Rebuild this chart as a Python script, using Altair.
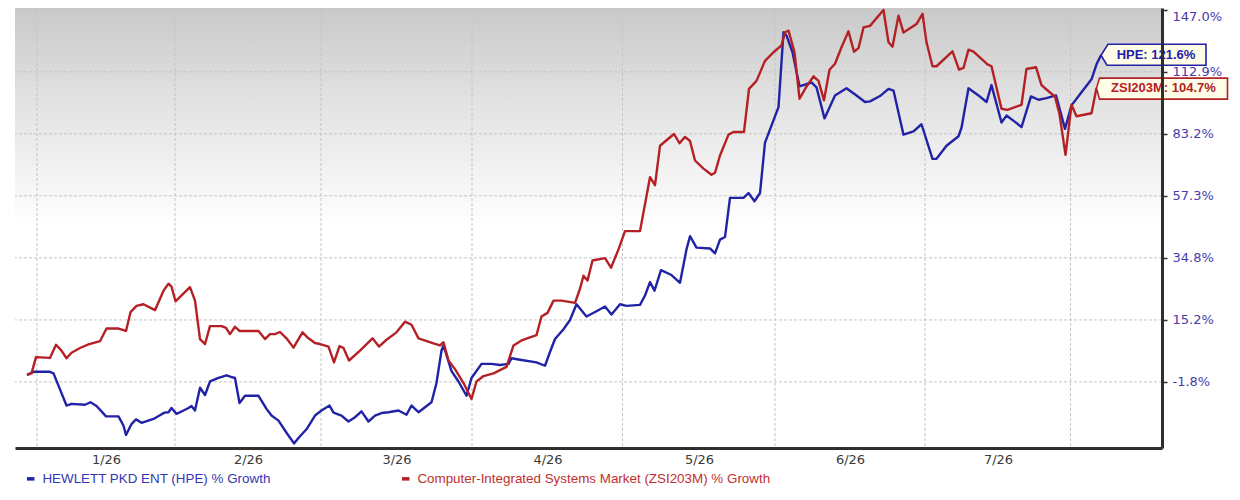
import altair as alt
import pandas as pd

# ---------------- data ----------------
# x: chart day index (0 = first session shown), y: % growth since start
hpe_day = [0.0, 1.3, 4.6, 5.3, 6.6, 7.9, 8.9, 11.6, 12.7, 13.9, 14.9, 15.8, 18.3, 19.3, 19.8,
           20.9, 21.8, 22.9, 25.3, 26.5, 27.5, 28.3, 28.9, 29.9, 31.3, 32.3, 32.9, 33.6, 34.6,
           35.6, 36.6, 38.3, 39.9, 40.8, 41.6, 42.5, 43.6, 46.3, 47.9, 48.9, 50.3, 51.9, 53.4,
           54.6, 55.9, 57.6, 58.9, 60.5, 61.3, 62.9, 64.3, 65.6, 66.9, 68.3, 69.6, 70.9, 72.3,
           74.3, 75.9, 76.9, 78.3, 79.6, 80.9, 81.9, 82.9, 83.3, 84.9, 86.3, 87.9, 88.9, 90.9,
           92.9, 94.6, 96.3, 96.9, 98.6, 101.9, 103.6, 104.6, 105.6, 107.3, 108.6, 109.9, 111.9,
           113.9, 115.6, 116.9, 118.6, 119.9, 122.6, 123.6, 124.6, 125.5, 126.8, 128.9, 130.6,
           131.9, 132.6, 133.9, 136.6, 137.6, 138.6, 139.6, 140.6, 143.3, 144.3, 145.5, 146.6,
           147.6, 150.3, 151.3, 151.9, 153.1, 154.5, 156.9, 157.9, 159.5, 161.6, 163.9, 165.9,
           167.6, 168.6, 170.6, 172.3, 173.3, 175.3, 177.3, 178.9, 181.1, 181.9, 183.9, 186.3,
           186.9, 188.3, 190.3, 191.9, 192.9, 194.9, 195.9, 197.6, 198.9, 200.8, 202.3, 203.9,
           205.8, 207.6, 208.9, 210.9, 212.9, 213.9, 214.8]
hpe_growth = [0.0, 0.8, 0.8, 0.4, -3.7, -7.7, -7.3, -7.5, -6.9, -7.8, -9.1, -10.3, -10.3, -12.5,
              -14.6, -12.1, -11.0, -11.8, -10.9, -10.1, -9.4, -9.3, -8.3, -9.7, -8.9, -8.3, -7.8,
              -8.9, -3.3, -5.1, -1.7, -0.8, -0.1, -0.5, -0.8, -7.1, -5.3, -5.3, -8.5, -10.1,
              -11.3, -14.1, -16.5, -14.9, -13.3, -10.1, -8.9, -7.7, -9.4, -10.1, -11.5, -10.5,
              -9.1, -11.5, -10.1, -9.5, -9.3, -8.9, -9.9, -7.7, -9.3, -8.1, -6.9, -2.1, 6.5, 7.9,
              1.0, -1.7, -5.3, -0.8, 2.9, 2.9, 2.6, 2.9, 4.4, 4.0, 3.3, 2.4, 6.1, 9.7, 12.5, 15.2,
              19.9, 16.2, 17.8, 19.2, 16.8, 19.9, 19.4, 19.7, 22.6, 26.8, 24.1, 30.7, 29.1, 26.6,
              37.7, 42.3, 38.3, 38.0, 36.3, 41.1, 42.0, 56.5, 56.5, 58.4, 55.2, 58.4, 79.3, 95.5,
              134.2, 132.3, 123.2, 105.6, 107.5, 105.1, 90.2, 101.1, 104.6, 101.1, 97.9, 98.2,
              100.8, 104.3, 103.5, 82.8, 84.3, 87.5, 72.3, 72.3, 77.9, 82.1, 85.9, 104.6, 101.1,
              97.9, 106.2, 88.3, 91.5, 88.6, 86.2, 100.6, 99.0, 99.8, 101.1, 85.4, 96.3, 102.7,
              109.1, 116.8, 121.6]

zsi_day = [0.0, 0.9, 1.8, 4.6, 5.8, 6.9, 7.9, 8.9, 10.6, 12.3, 14.6, 15.9, 18.3, 19.8, 20.7,
           21.9, 23.3, 25.6, 27.3, 28.3, 28.9, 29.7, 32.6, 33.6, 34.6, 35.6, 36.6, 38.9, 39.8,
           40.6, 41.6, 42.5, 46.3, 47.6, 48.6, 49.6, 50.6, 51.9, 53.3, 55.1, 56.3, 57.6, 58.6,
           60.3, 61.4, 62.5, 63.3, 64.4, 66.6, 69.1, 70.4, 71.9, 73.9, 75.6, 76.9, 78.3, 81.3,
           82.6, 83.3, 84.3, 85.6, 87.3, 88.9, 89.9, 91.3, 93.3, 95.9, 97.3, 98.9, 100.6, 101.9,
           102.9, 104.1, 105.3, 106.9, 109.6, 110.6, 111.3, 112.1, 113.1, 115.6, 116.8, 118.3,
           119.6, 122.6, 124.6, 125.6, 126.6, 129.4, 130.5, 131.6, 132.6, 133.6, 135.3, 136.9,
           137.6, 138.6, 140.3, 141.3, 143.4, 144.4, 145.9, 147.6, 149.3, 150.9, 151.6, 152.3,
           153.5, 154.5, 155.8, 157.3, 158.3, 159.4, 160.5, 161.6, 162.9, 164.3, 165.4, 166.3,
           167.3, 168.6, 171.3, 172.3, 173.1, 174.3, 175.3, 177.9, 179.1, 179.9, 181.1, 181.9,
           185.1, 186.4, 187.3, 188.3, 189.3, 192.1, 192.9, 194.9, 196.1, 198.9, 199.9, 201.8,
           202.9, 203.9, 205.6, 206.5, 207.7, 208.9, 209.9, 212.9, 213.9]
zsi_growth = [0.0, 0.4, 4.7, 4.5, 8.1, 6.5, 4.4, 5.9, 7.2, 8.2, 9.1, 12.7, 12.7, 12.0, 17.5, 19.4,
              19.9, 18.1, 24.1, 26.3, 25.4, 20.8, 25.2, 21.0, 9.7, 8.3, 13.4, 13.4, 12.9, 11.1,
              13.2, 12.0, 12.0, 9.7, 11.1, 11.1, 11.7, 9.9, 7.3, 11.6, 9.9, 8.6, 8.3, 7.6, 3.3,
              7.7, 7.2, 3.8, 6.5, 9.9, 7.6, 9.5, 11.6, 14.7, 13.8, 9.9, 8.5, 7.9, 8.8, 3.8, 1.5,
              -2.1, -6.1, -1.7, -0.3, 0.4, 2.1, 7.9, 9.3, 10.2, 10.8, 16.2, 17.3, 21.0, 21.0,
              20.3, 24.7, 28.9, 27.3, 33.9, 34.7, 31.5, 37.7, 44.1, 44.1, 64.7, 61.5, 77.9, 83.1,
              79.0, 81.8, 80.0, 71.6, 68.2, 65.7, 66.5, 73.7, 82.8, 84.0, 84.0, 104.3, 108.3,
              118.6, 123.2, 126.9, 134.2, 135.1, 123.2, 99.5, 105.1, 110.6, 108.3, 98.7, 114.0,
              117.1, 125.9, 134.7, 123.5, 125.4, 136.9, 137.8, 147.0, 128.6, 126.2, 143.7, 134.0,
              138.8, 144.8, 128.6, 115.8, 115.8, 123.7, 114.0, 114.9, 124.6, 123.5, 116.8, 115.8,
              94.7, 94.2, 96.6, 114.4, 115.3, 106.2, 104.0, 100.5, 92.2, 74.0, 96.6, 91.2, 92.6,
              104.7]

hpe_name = "HEWLETT PKD ENT (HPE) % Growth"
zsi_name = "Computer-Integrated Systems Market (ZSI203M) % Growth"
hpe_tag = "HPE"
zsi_tag = "ZSI203M"

# y axis tick labels (% growth) - price-based log axis
y_ticks = [147.0, 112.9, 83.2, 57.3, 34.8, 15.2, -1.8]
LOG_BASE = 1.155  # offset of the log (price) axis

# month boundaries and month labels (in chart-day units)
month_starts = [2.0, 29.6, 58.8, 89.0, 119.1, 149.6, 179.6, 208.7]
month_mids = [15.8, 44.2, 73.9, 104.1, 134.4, 164.6, 194.2]
month_labels = ["1/26", "2/26", "3/26", "4/26", "5/26", "6/26", "7/26"]

# ---------------- styling ----------------
BLUE = "#2222a6"
RED = "#b52024"
GRID = "#c4c4c4"
FONT = "DejaVu Sans"
SANS = "Liberation Sans"

W, H = 1147, 440
x_dom = [-2.4, 227]
y_dom = [0.9798, 2.6369]

df = pd.concat([
    pd.DataFrame({"day": hpe_day, "growth": hpe_growth, "series": hpe_name}),
    pd.DataFrame({"day": zsi_day, "growth": zsi_growth, "series": zsi_name}),
])

xs = alt.Scale(domain=x_dom, nice=False, zero=False)
ys = alt.Scale(type="log", domain=y_dom, nice=False, zero=False)

tick_vals = [round(t / 100 + LOG_BASE, 6) for t in y_ticks]
minus = "\u2212"
y_label_expr = f"replace(format((datum.value - {LOG_BASE}) * 100, '.1f'), '{minus}', '-') + '%'"
x_label_expr = ("[" + ",".join(f"'{l}'" for l in month_labels) + "][indexof(["
                + ",".join(str(v) for v in month_mids) + "], datum.value)]")

x_axis = alt.Axis(values=month_mids, labelExpr=x_label_expr, grid=False, ticks=False,
                  domainColor="#2e2e2e", domainWidth=3, labelColor="#3a3a3a",
                  labelFont=FONT, labelFontSize=13, labelPadding=5, title=None, zindex=1)
y_axis = alt.Axis(orient="right", values=tick_vals, labelExpr=y_label_expr, grid=False,
                  domainColor="#2e2e2e", domainWidth=3, tickColor="#2e2e2e", tickSize=5,
                  tickWidth=1.5, labelColor="#4a3aac", labelFont=FONT, labelFontSize=13,
                  labelPadding=5, labelFlush=4, title=None, zindex=1)

gradient = alt.LinearGradient(
    gradient="linear", x1=0, x2=0, y1=0, y2=1,
    stops=[alt.GradientStop(color="#c9c9c9", offset=0),
           alt.GradientStop(color="#e3e3e3", offset=0.22),
           alt.GradientStop(color="#ffffff", offset=0.5),
           alt.GradientStop(color="#ffffff", offset=1)])

background = alt.Chart(pd.DataFrame({"a": [0]})).mark_rect(fill=gradient, stroke=None).encode(
    opacity=alt.value(1))

hgrid = alt.Chart(pd.DataFrame({"v": tick_vals})).mark_rule(
    color=GRID, strokeDash=[3, 2], strokeWidth=1).encode(
    y=alt.Y("v:Q", scale=ys, axis=y_axis))

vgrid = alt.Chart(pd.DataFrame({"day": month_starts})).mark_rule(
    color=GRID, strokeDash=[3, 2], strokeWidth=1).encode(
    x=alt.X("day:Q", scale=xs, axis=x_axis))

lines = alt.Chart(df).transform_calculate(
    v=f"datum.growth / 100 + {LOG_BASE}"
).mark_line(strokeWidth=2.4, strokeJoin="round").encode(
    x=alt.X("day:Q", scale=xs, axis=x_axis),
    y=alt.Y("v:Q", scale=ys, axis=y_axis),
    color=alt.Color("series:N",
                    scale=alt.Scale(domain=[hpe_name, zsi_name], range=[BLUE, RED]),
                    legend=alt.Legend(
                        title=None, orient="none", direction="horizontal",
                        legendX=9, legendY=464, symbolType="stroke",
                        symbolSize=56, symbolStrokeWidth=3.5, labelFont=SANS,
                        labelFontSize=13.4, labelOffset=5, columnPadding=123,
                        labelLimit=600, padding=0,
                        labelColor=alt.ExprRef(
                            expr=f"datum.label == '{hpe_name}' ? '#3636b4' : '#c0302e'"))),
    order="day:Q",
)

# end-of-line value tags
tags = pd.DataFrame({
    "day": [hpe_day[-1], zsi_day[-1]],
    "growth": [hpe_growth[-1], zsi_growth[-1]],
    "text": [f"{hpe_tag}: {hpe_growth[-1]:.1f}%", f"{zsi_tag}: {zsi_growth[-1]:.1f}%"],
    "series": [hpe_name, zsi_name],
})

hpe_box = "M0,0 L7,-11 L105,-11 L105,10 L6,10 Z"
zsi_box = "M0,0 L3,-10 L131,-10 L131,11 L3,11 Z"

def tag_layer(idx, path, color, dx):
    base = alt.Chart(tags.iloc[[idx]]).transform_calculate(
        v=f"datum.growth / 100 + {LOG_BASE}")
    box = base.mark_point(shape=path, size=4, filled=True, fill="#fffde8", stroke=color,
                          strokeWidth=1.6, opacity=1).encode(
        x=alt.X("day:Q", scale=xs), y=alt.Y("v:Q", scale=ys))
    txt = base.mark_text(font=SANS, fontSize=13, fontWeight="bold", color=color,
                         align="center", baseline="middle", dx=dx).encode(
        x=alt.X("day:Q", scale=xs), y=alt.Y("v:Q", scale=ys), text="text:N")
    return box + txt

chart = alt.layer(
    background, hgrid, vgrid, lines,
    tag_layer(0, hpe_box, BLUE, 55),
    tag_layer(1, zsi_box, RED, 67),
).properties(
    width=W, height=H,
    autosize=alt.AutoSizeParams(type="none"),
    padding={"left": 7, "top": 0, "right": 70, "bottom": 45},
).configure_view(stroke=None).configure(background="white")

chart.save("out.html", embed_options={"renderer": "svg", "actions": False})
